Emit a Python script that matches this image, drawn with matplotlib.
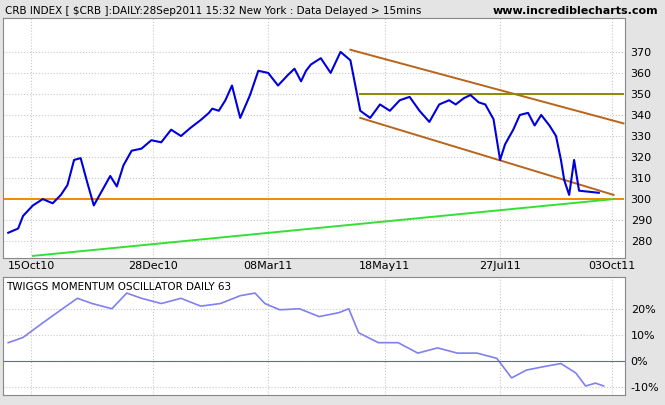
import datetime as dt
import matplotlib
matplotlib.use("Agg")
import matplotlib.pyplot as plt

# price series (days since start, close)
start = dt.date(2010, 10, 1)
price_days = [0, 6, 9, 15, 21, 27, 32, 36, 40, 44, 48, 52, 57, 62, 66, 70, 75, 81, 87, 93, 99, 105,
              111, 117, 122, 124, 128, 132, 136, 141, 147, 152, 158, 164, 170, 174, 178, 181, 184,
              190, 196, 202, 208, 214, 220, 226, 232, 238, 244, 250, 256, 262, 268, 272, 277, 281,
              286, 290, 295, 299, 302, 307, 311, 316, 320, 324, 329, 333, 336, 338, 341, 344, 347,
              359]
price_vals = [284, 286, 292, 297, 300, 298, 302, 306.7, 318.6, 319.5, 308, 297, 304, 311, 306, 316,
              323, 324, 328, 327, 333, 330, 334, 337.6, 341, 343, 342, 347, 354, 338.6, 349.5, 361,
              360, 354, 359, 362, 356, 361, 364, 367, 360, 370, 366, 342, 338.6, 345, 342, 347,
              348.6, 342, 336.7, 345, 347, 345, 348, 349.5, 346, 345, 338, 318.6, 326, 333, 340,
              341, 335, 340, 335, 330, 318.6, 309, 302, 318.6, 304, 303]

mom_days = [0, 9, 21, 33, 42, 51, 63, 72, 81, 93, 105, 117, 129, 141, 150, 156, 165, 177, 189, 201,
            207, 213, 225, 237, 249, 261, 273, 285, 297, 306, 315, 327, 336, 345, 351, 357, 362]
mom_vals = [7, 9, 14.6, 20, 24, 22, 20, 26, 24, 22, 24, 21, 22, 25, 26, 22, 19.6, 20, 17, 18.5,
            20, 10.8, 7, 7, 3, 5, 3, 3, 1, -6.5, -3.5, -2, -1, -4.6, -9.6, -8.5, -9.6]

# annotation lines: (day, value) endpoints
upper_trend = [(208, 371), (374, 336)]
lower_trend = [(214, 338.6), (368, 302)]
resistance = [(214, 350), (374, 350)]
support = [(-5, 300), (374, 300)]
green_trend = [(15, 273), (368, 300)]

tick_labels = ["15Oct10", "28Dec10", "08Mar11", "18May11", "27Jul11", "03Oct11"]
tick_dates = [dt.date(2010, 10, 15), dt.date(2010, 12, 28), dt.date(2011, 3, 8),
              dt.date(2011, 5, 18), dt.date(2011, 7, 27), dt.date(2011, 10, 3)]


def to_date(days):
    return [start + dt.timedelta(days=d) for d in days]


fig = plt.figure(figsize=(6.65, 4.05), dpi=100, facecolor="#e4e4e4")
ax = fig.add_axes([0.005, 0.363, 0.935, 0.592])
ax2 = fig.add_axes([0.005, 0.025, 0.935, 0.29], sharex=ax)

for a in (ax, ax2):
    a.set_facecolor("white")
    a.grid(True, color="#c8c8c8", linestyle=":", linewidth=0.8)
    a.yaxis.tick_right()
    a.tick_params(labelsize=8, length=0, pad=4)
    for s in a.spines.values():
        s.set_color("#888888")

for (d0, v0), (d1, v1), c in [(*upper_trend, "#b8651b"), (*lower_trend, "#b8651b"),
                              (*resistance, "#8a8a00"), (*support, "#f08c00"),
                              (*green_trend, "#33e033")]:
    ax.plot(to_date([d0, d1]), [v0, v1], color=c, linewidth=1.4, clip_on=True)

ax.plot(to_date(price_days), price_vals, color="#0000dd", linewidth=1.5)
ax.set_ylim(272, 386)
ax.set_yticks(range(280, 371, 10))
ax.set_xlim(start - dt.timedelta(days=3), dt.date(2011, 10, 11))
ax.set_xticks(tick_dates)
ax.set_xticklabels(tick_labels)
ax.tick_params(axis="x", labelsize=8, pad=2)

ax2.plot(to_date(mom_days), mom_vals, color="#8080f0", linewidth=1.2)
ax2.axhline(0, color="#6060d0", linewidth=0.8)
ax2.set_ylim(-13, 32)
ax2.set_yticks([-10, 0, 10, 20])
ax2.set_yticklabels(["-10%", "0%", "10%", "20%"])
ax2.tick_params(axis="x", labelbottom=False)
ax2.text(0.005, 0.96, "TWIGGS MOMENTUM OSCILLATOR DAILY 63", transform=ax2.transAxes,
         fontsize=7.5, va="top")

fig.text(0.008, 0.985, "CRB INDEX [ $CRB ]:DAILY:28Sep2011 15:32 New York : Data Delayed > 15mins",
         fontsize=7.5, va="top")
fig.text(0.99, 0.985, "www.incrediblecharts.com", fontsize=8, fontweight="bold", va="top", ha="right")

fig.savefig("out.png", dpi=100, facecolor=fig.get_facecolor())
